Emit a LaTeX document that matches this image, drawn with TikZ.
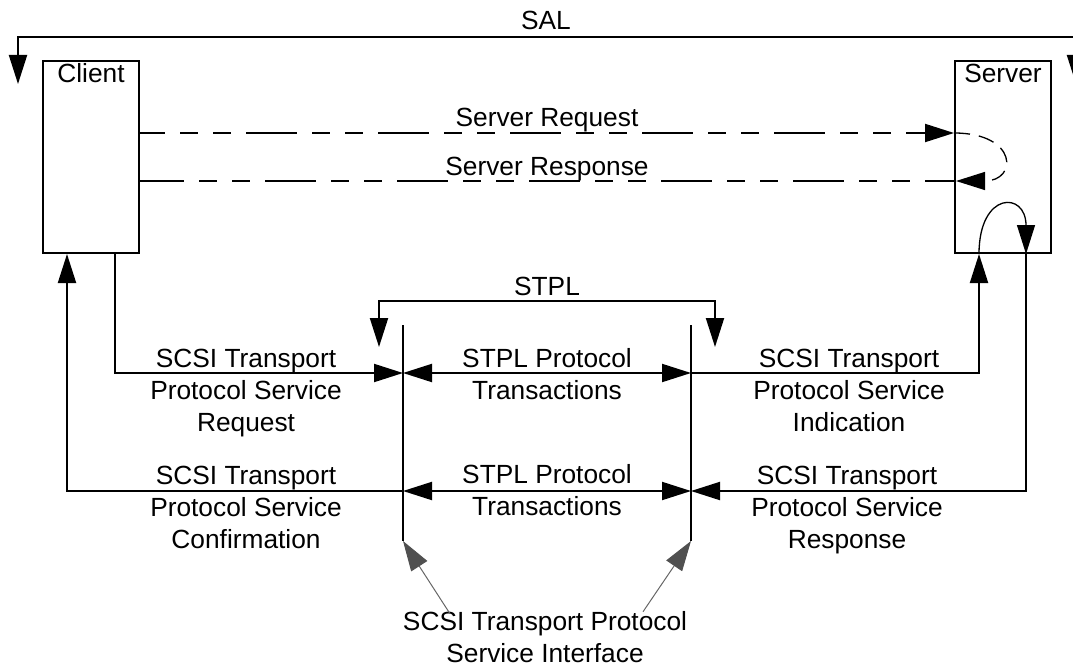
\documentclass[tikz,border=0pt]{standalone}
\usepackage{fontspec}
\setmainfont{Liberation Sans}
\usetikzlibrary{arrows.meta}
\definecolor{headgray}{HTML}{505050}
\definecolor{shaftgray}{HTML}{666666}
\tikzset{
  Tri/.tip={Triangle[length=29pt,width=18pt]},
  GTri/.tip={Triangle[length=30pt,width=19pt,color=headgray]},
  ln/.style={line width=2pt},
  thinln/.style={line width=1.3pt},
  dashA/.style={dash pattern=on 51pt off 15pt on 18pt off 15pt on 18pt off 15pt, dash phase=26pt},
  dashB/.style={dash pattern=on 51pt off 15pt on 18pt off 15pt on 18pt off 15pt, dash phase=7pt},
  dashC/.style={dash pattern=on 16pt off 9pt},
  box/.style={draw, line width=2pt, minimum width=96pt, minimum height=192pt, inner sep=0pt},
  lbl/.style={font=\fontsize{26.3}{32}\selectfont, inner sep=0pt, align=center, anchor=base},
  garr/.style={draw=shaftgray, line width=1pt, -GTri}
}
\begin{document}
\begin{tikzpicture}[x=1pt,y=-1pt]
\useasboundingbox (0,0) rectangle (1073,666);

% boxes
\node[box] (client) at (91,157) {};
\node[box] (server) at (1003,157) {};
\node[lbl] (clientlbl) at (91,83) {Client};
\node[lbl] (serverlbl) at (1003,83) {Server};

% SAL bracket
\coordinate (salL) at (18,84);
\coordinate (salLt) at (18,37);
\coordinate (salRt) at (1076,37);
\coordinate (salR) at (1076,84);
\draw[ln,Tri-Tri] (salL) -- (salLt) -- (salRt) -- (salR);
\node[lbl] (sal) at (546,30) {SAL};

% server request / response
\draw[ln,dashA,-Tri] (client.east |- 0,133) -- (server.west |- 0,133);
\draw[ln,dashB] (client.east |- 0,181) -- (server.west |- 0,181);
\draw[thinln,dashC,-Tri] (server.west |- 0,133) .. controls (1018,133) and (1018,181) .. ([xshift=2pt]server.west |- 0,181);
\node[lbl] (reqlbl) at (547,127) {Server Request};
\node[lbl] (reslbl) at (547,175) {Server Response};

% STPL bracket
\coordinate (stL) at (379,347);
\coordinate (stLt) at (379,301);
\coordinate (stRt) at (715,301);
\coordinate (stR) at (715,347);
\draw[ln,Tri-Tri] (stL) -- (stLt) -- (stRt) -- (stR);
\node[lbl] (stpl) at (547,295) {STPL};

% interface lines
\coordinate (iLt) at (403,325);
\coordinate (iLb) at (403,541);
\coordinate (iRt) at (691,325);
\coordinate (iRb) at (691,541);
\draw[ln] (iLt) -- (iLb);
\draw[ln] (iRt) -- (iRb);

\coordinate (r1L) at (403,373);
\coordinate (r1R) at (691,373);
\coordinate (r2L) at (403,491);
\coordinate (r2R) at (691,491);

% upper row
\draw[ln,-Tri] ([xshift=24pt]client.south) |- (r1L);
\draw[ln,Tri-Tri] (r1L) -- (r1R);
\draw[ln,-Tri] (r1R) -| ([xshift=-24pt]server.south);
\draw[thinln,-Tri] ([xshift=-24pt]server.south) .. controls +(0,-63) and +(0,-63) .. ([xshift=23pt]server.south);

% lower row
\draw[ln,-Tri] ([xshift=23pt]server.south) |- (r2R);
\draw[ln,Tri-Tri] (r2R) -- (r2L);
\draw[ln,-Tri] (r2L) -| ([xshift=-24pt]client.south);

% labels (base anchor = baseline of the last line)
\node[lbl] (t1) at (246,431) {SCSI Transport\\Protocol Service\\Request};
\node[lbl] (t2) at (547,399) {STPL Protocol\\Transactions};
\node[lbl] (t3) at (849,431) {SCSI Transport\\Protocol Service\\Indication};
\node[lbl] (b1) at (246,548) {SCSI Transport\\Protocol Service\\Confirmation};
\node[lbl] (b2) at (547,515) {STPL Protocol\\Transactions};
\node[lbl] (b3) at (847,548) {SCSI Transport\\Protocol Service\\Response};
\node[lbl] (iface) at (545,662) {SCSI Transport Protocol\\Service Interface};

% gray pointers
\draw[garr] ([xshift=-95pt,yshift=-3pt]iface.north) -- (iLb);
\draw[garr] ([xshift=98pt,yshift=-1pt]iface.north) -- (iRb);
\end{tikzpicture}
\end{document}
